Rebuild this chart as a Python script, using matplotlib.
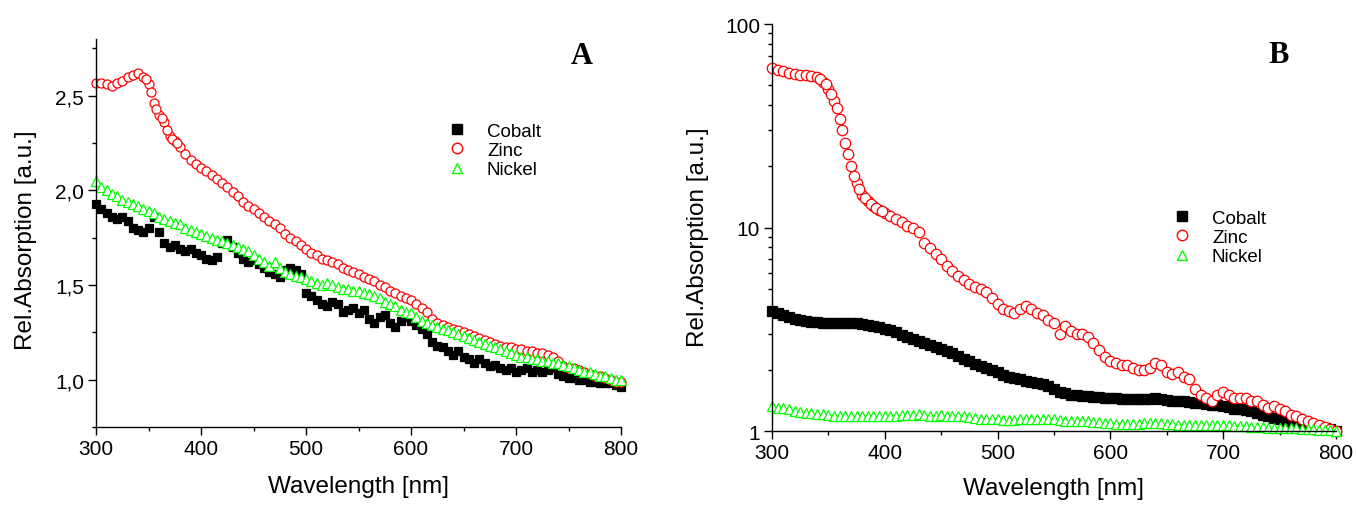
import matplotlib.pyplot as plt
import numpy as np
from matplotlib.lines import Line2D

plt.rcParams['font.family'] = ['Liberation Sans', 'DejaVu Sans']

# wavelength grid of the read-off points (nm)
wavelength = np.arange(300, 801, 5)

# panel A: relative absorption, linear scale
cobalt_a = [1.93, 1.90, 1.88, 1.86, 1.85, 1.86, 1.84, 1.80, 1.79, 1.78, 1.80, 1.86, 1.78, 1.72, 1.70, 1.71,
            1.69, 1.68, 1.69, 1.67, 1.66, 1.64, 1.63, 1.65, 1.72, 1.74, 1.70, 1.67, 1.64, 1.62, 1.63, 1.61,
            1.59, 1.57, 1.56, 1.54, 1.58, 1.59, 1.58, 1.56, 1.46, 1.44, 1.42, 1.40, 1.39, 1.41, 1.40, 1.36,
            1.37, 1.38, 1.35, 1.37, 1.32, 1.30, 1.33, 1.34, 1.30, 1.28, 1.31, 1.33, 1.31, 1.29, 1.27, 1.24,
            1.20, 1.18, 1.17, 1.15, 1.13, 1.15, 1.12, 1.11, 1.09, 1.11, 1.09, 1.07, 1.08, 1.06, 1.05, 1.06,
            1.04, 1.05, 1.06, 1.04, 1.05, 1.04, 1.05, 1.06, 1.03, 1.02, 1.01, 1.01, 1.00, 1.00, 0.99, 0.99,
            0.98, 0.98, 0.98, 0.97, 0.96]
zinc_a = [2.57, 2.57, 2.56, 2.55, 2.57, 2.58, 2.60, 2.61, 2.62, 2.60, 2.56, 2.46, 2.40, 2.36, 2.29, 2.26,
          2.23, 2.19, 2.16, 2.14, 2.12, 2.10, 2.08, 2.06, 2.04, 2.02, 1.99, 1.97, 1.94, 1.92, 1.90, 1.88,
          1.86, 1.84, 1.82, 1.80, 1.77, 1.75, 1.73, 1.71, 1.69, 1.67, 1.66, 1.64, 1.63, 1.62, 1.61, 1.59,
          1.58, 1.57, 1.56, 1.54, 1.53, 1.52, 1.50, 1.49, 1.47, 1.46, 1.44, 1.43, 1.42, 1.40, 1.38, 1.36,
          1.32, 1.30, 1.29, 1.28, 1.27, 1.26, 1.25, 1.24, 1.23, 1.22, 1.21, 1.20, 1.19, 1.18, 1.17, 1.17,
          1.16, 1.16, 1.15, 1.15, 1.14, 1.14, 1.13, 1.12, 1.10, 1.07, 1.06, 1.06, 1.05, 1.04, 1.03, 1.02,
          1.02, 1.01, 1.00, 0.99, 0.99]
# extra zinc points read in the steep part of panel A
zinc_a_extra_wl = [347.5, 352.5, 357.5, 362.5, 367.5, 372.5, 377.5]
zinc_a_extra = [2.59, 2.52, 2.43, 2.38, 2.32, 2.27, 2.25]
nickel_a = [2.05, 2.02, 2.00, 1.98, 1.97, 1.95, 1.94, 1.93, 1.92, 1.90, 1.89, 1.88, 1.86, 1.85, 1.84, 1.83,
            1.82, 1.80, 1.79, 1.78, 1.77, 1.76, 1.75, 1.74, 1.73, 1.72, 1.71, 1.70, 1.69, 1.68, 1.66, 1.64,
            1.62, 1.60, 1.62, 1.59, 1.57, 1.56, 1.55, 1.54, 1.53, 1.52, 1.51, 1.50, 1.51, 1.50, 1.49, 1.48,
            1.48, 1.47, 1.47, 1.46, 1.45, 1.44, 1.43, 1.41, 1.40, 1.39, 1.37, 1.36, 1.35, 1.33, 1.31, 1.30,
            1.29, 1.28, 1.27, 1.26, 1.25, 1.24, 1.23, 1.22, 1.21, 1.20, 1.19, 1.18, 1.17, 1.16, 1.15, 1.14,
            1.13, 1.12, 1.12, 1.11, 1.11, 1.10, 1.10, 1.09, 1.09, 1.08, 1.07, 1.06, 1.05, 1.04, 1.04, 1.03,
            1.02, 1.02, 1.01, 1.00, 1.00]

# panel B: relative absorption, log scale
cobalt_b = [3.90, 3.80, 3.70, 3.62, 3.55, 3.50, 3.46, 3.44, 3.42, 3.41, 3.40, 3.40, 3.40, 3.40, 3.39, 3.38,
            3.36, 3.33, 3.29, 3.24, 3.18, 3.12, 3.05, 2.98, 2.91, 2.84, 2.77, 2.70, 2.64, 2.58, 2.53, 2.48,
            2.42, 2.35, 2.27, 2.20, 2.14, 2.09, 2.04, 1.99, 1.94, 1.88, 1.85, 1.82, 1.80, 1.77, 1.74, 1.72,
            1.70, 1.66, 1.60, 1.56, 1.53, 1.51, 1.50, 1.49, 1.48, 1.47, 1.47, 1.46, 1.45, 1.45, 1.44, 1.44,
            1.44, 1.44, 1.44, 1.44, 1.45, 1.43, 1.42, 1.41, 1.40, 1.40, 1.39, 1.38, 1.37, 1.36, 1.35, 1.34,
            1.33, 1.31, 1.29, 1.28, 1.27, 1.25, 1.22, 1.20, 1.18, 1.16, 1.14, 1.12, 1.10, 1.09, 1.08, 1.07,
            1.06, 1.05, 1.04, 1.02, 1.00]
zinc_b = [60.5, 59.5, 58.5, 57.5, 57.0, 56.5, 56.0, 55.5, 55.0, 52.0, 48.0, 42.0, 34.0, 26.0, 20.0, 16.5,
          14.5, 13.5, 12.8, 12.2, 11.8, 11.4, 11.0, 10.6, 10.2, 9.9, 9.5, 8.4, 7.9, 7.4, 7.0, 6.5,
          6.1, 5.8, 5.5, 5.3, 5.1, 5.0, 4.8, 4.5, 4.2, 4.0, 3.9, 3.8, 4.0, 4.1, 4.0, 3.8,
          3.7, 3.5, 3.4, 3.0, 3.3, 3.1, 3.0, 3.0, 2.9, 2.7, 2.5, 2.3, 2.2, 2.15, 2.1, 2.1,
          2.05, 2.0, 2.0, 2.05, 2.15, 2.1, 1.95, 1.9, 1.95, 1.85, 1.8, 1.6, 1.5, 1.45, 1.4, 1.5,
          1.55, 1.5, 1.45, 1.45, 1.45, 1.4, 1.4, 1.35, 1.3, 1.32, 1.28, 1.25, 1.2, 1.18, 1.15, 1.12,
          1.1, 1.07, 1.05, 1.02, 1.0]
# extra zinc points read in the steep part of panel B
zinc_b_extra_wl = [342.5, 347.5, 352.5, 357.5, 362.5, 367.5, 372.5, 377.5, 382.5, 387.5, 392.5, 397.5]
zinc_b_extra = [54.0, 50.5, 45.5, 38.5, 30.0, 23.0, 18.0, 15.5, 14.0, 13.1, 12.5, 12.0]
nickel_b = [1.32, 1.30, 1.30, 1.28, 1.26, 1.24, 1.22, 1.22, 1.21, 1.21, 1.20, 1.19, 1.19, 1.18, 1.18, 1.18,
            1.19, 1.18, 1.18, 1.19, 1.19, 1.18, 1.19, 1.20, 1.20, 1.20, 1.21, 1.20, 1.19, 1.19, 1.20, 1.19,
            1.19, 1.18, 1.18, 1.17, 1.16, 1.15, 1.14, 1.14, 1.14, 1.13, 1.13, 1.13, 1.14, 1.14, 1.14, 1.14,
            1.15, 1.15, 1.14, 1.13, 1.12, 1.12, 1.12, 1.12, 1.12, 1.11, 1.11, 1.10, 1.09, 1.08, 1.08, 1.08,
            1.08, 1.08, 1.09, 1.09, 1.09, 1.09, 1.08, 1.08, 1.07, 1.07, 1.07, 1.07, 1.07, 1.07, 1.07, 1.07,
            1.07, 1.07, 1.06, 1.06, 1.06, 1.05, 1.05, 1.05, 1.04, 1.04, 1.04, 1.03, 1.03, 1.03, 1.02, 1.02,
            1.02, 1.01, 1.01, 1.01, 1.00]

names = ['Cobalt', 'Zinc', 'Nickel']
x_ticks = [300, 400, 500, 600, 700, 800]
a_ticks = [1.0, 1.5, 2.0, 2.5]
a_tick_labels = ['1,0', '1,5', '2,0', '2,5']
b_ticks = [1, 10, 100]
b_tick_labels = ['1', '10', '100']

fig = plt.figure(figsize=(13.56, 5.06), dpi=100)
ax_a = fig.add_axes([0.0708, 0.1542, 0.3872, 0.7668])
ax_b = fig.add_axes([0.5693, 0.1462, 0.4159, 0.8043])

styles = {
    'Cobalt': dict(marker='s', color='black', mfc='black'),
    'Zinc': dict(marker='o', color='#ff0000', mfc='white'),
    'Nickel': dict(marker='^', color='#00ff00', mfc='white'),
}


def draw(ax, name, x, y, ms):
    st = styles[name]
    ax.plot(x, y, linestyle='none', marker=st['marker'], ms=ms,
            mec=st['color'], mfc=st['mfc'], mew=0.9, clip_on=False)


# draw order: cobalt, zinc, nickel (open symbols sit on top)
draw(ax_a, 'Cobalt', wavelength, cobalt_a, 6.0)
draw(ax_a, 'Zinc', wavelength, zinc_a, 6.5)
draw(ax_a, 'Zinc', zinc_a_extra_wl, zinc_a_extra, 6.5)
draw(ax_a, 'Nickel', wavelength, nickel_a, 7.0)

draw(ax_b, 'Cobalt', wavelength, cobalt_b, 6.5)
draw(ax_b, 'Zinc', wavelength, zinc_b, 7.5)
draw(ax_b, 'Zinc', zinc_b_extra_wl, zinc_b_extra, 7.5)
draw(ax_b, 'Nickel', wavelength, nickel_b, 7.0)

ax_a.set_xlim(300, 800)
ax_a.set_ylim(0.8, 2.8)
ax_a.set_yticks(a_ticks)
ax_a.set_yticklabels(a_tick_labels)
ax_a.set_yticks(np.arange(0.75, 2.8, 0.25), minor=True)

ax_b.set_xlim(300, 800)
ax_b.set_yscale('log')
ax_b.set_ylim(1, 100)
ax_b.set_yticks(b_ticks)
ax_b.set_yticklabels(b_tick_labels)

for ax in (ax_a, ax_b):
    ax.set_xticks(x_ticks)
    ax.set_xticks(np.arange(300, 801, 50), minor=True)
    for s in ['top', 'right']:
        ax.spines[s].set_visible(False)
    for s in ['left', 'bottom']:
        ax.spines[s].set_linewidth(1.0)
    ax.tick_params(which='major', direction='out', length=5.5, width=1.0, labelsize=15, pad=3)
    ax.tick_params(which='minor', direction='out', length=3, width=1.0)
    ax.set_xlabel('Wavelength [nm]', fontsize=17.5)
    ax.set_ylabel('Rel.Absorption [a.u.]', fontsize=17.5)

ax_a.xaxis.set_label_coords(0.5, -0.125)
ax_b.xaxis.set_label_coords(0.5, -0.113)
ax_a.yaxis.set_label_coords(-0.112, 0.485)
ax_b.yaxis.set_label_coords(-0.112, 0.479)

# legends
handles = [Line2D([], [], linestyle='none', marker=styles[n]['marker'], ms=7.5,
                  mec=styles[n]['color'], mfc=styles[n]['mfc'], mew=1.0) for n in names]
for anchor in [(0.3301, 0.7006), (0.8647, 0.5287)]:
    fig.legend(handles, names, loc='center left', bbox_to_anchor=anchor,
               bbox_transform=fig.transFigure, frameon=False, fontsize=13.5,
               handlelength=1.0, handletextpad=1.1, labelspacing=0.12,
               borderpad=0, borderaxespad=0)

# panel letters
fig.text(0.4292, 0.8874, 'A', fontsize=22, fontweight='bold', family='Liberation Serif',
         ha='center', va='center')
fig.text(0.9432, 0.8913, 'B', fontsize=22, fontweight='bold', family='Liberation Serif',
         ha='center', va='center')

fig.savefig('out.png', dpi=100)
